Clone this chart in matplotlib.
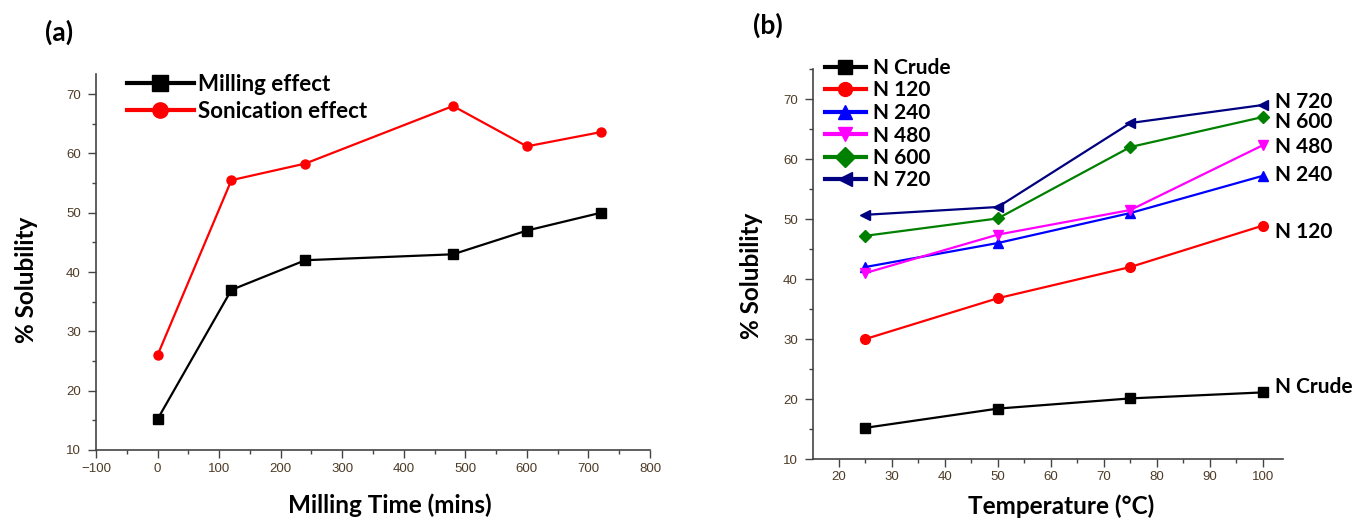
import matplotlib
matplotlib.use("Agg")
import matplotlib.pyplot as plt
from matplotlib.ticker import MultipleLocator

# Panel (a) data
milling_time = [0, 120, 240, 480, 600, 720]
milling_effect = [15.2, 37.0, 42.0, 43.0, 47.0, 50.0]
sonication_effect = [26.0, 55.5, 58.3, 68.0, 61.2, 63.6]

# Panel (b) data
temperature = [25, 50, 75, 100]
n_crude = [15.2, 18.4, 20.1, 21.1]
n_120 = [30.0, 36.8, 42.0, 48.9]
n_240 = [42.0, 46.0, 51.0, 57.2]
n_480 = [41.0, 47.4, 51.5, 62.3]
n_600 = [47.2, 50.1, 62.0, 67.0]
n_720 = [50.7, 52.0, 66.0, 69.0]
series_names = ["N Crude", "N 120", "N 240", "N 480", "N 600", "N 720"]

BOLD = dict(family="Lato", weight="bold")
TICKC = "#4d3b26"
W, H = 1352, 518

fig = plt.figure(figsize=(W / 100, H / 100), dpi=100)

def px_axes(l, r, t, b):
    return [l / W, 1 - b / H, (r - l) / W, (b - t) / H]

def style_axes(ax):
    for s in ("top", "right"):
        ax.spines[s].set_visible(False)
    for s in ("left", "bottom"):
        ax.spines[s].set_color("#444444")
        ax.spines[s].set_linewidth(1.2)
    ax.tick_params(which="major", direction="out", length=6, width=1.0,
                   colors="#444444", labelcolor=TICKC, labelsize=9.5, pad=3)
    ax.tick_params(which="minor", direction="out", length=3, width=1.0,
                   colors="#444444")
    ax.tick_params(axis="y", which="major", pad=5)
    for lab in ax.get_xticklabels() + ax.get_yticklabels():
        lab.set_family("Liberation Sans")

def place_label(lbl, x, y, ax_axis):
    ax_axis.set_label_coords(x, y)
    lbl.set_va("center")
    lbl.set_ha("center")

# ---------- panel (a)
axa = fig.add_axes(px_axes(96, 650, 74, 450))
axa.plot(milling_time, milling_effect, color="black", marker="s", ms=6.5,
         lw=1.6, label="Milling effect")
axa.plot(milling_time, sonication_effect, color="red", marker="o", ms=6.5,
         lw=1.6, label="Sonication effect")
axa.set_xlim(-100, 800)
axa.set_ylim(10, 73.4)
axa.xaxis.set_major_locator(MultipleLocator(100))
axa.xaxis.set_minor_locator(MultipleLocator(50))
axa.yaxis.set_major_locator(MultipleLocator(10))
axa.yaxis.set_minor_locator(MultipleLocator(5))
style_axes(axa)
axa.set_xlabel("Milling Time (mins)", fontsize=17.5, **BOLD)
axa.set_ylabel("% Solubility", fontsize=17.5, **BOLD)
place_label(axa.xaxis.label, 0.531, -0.146, axa.xaxis)
place_label(axa.yaxis.label, -0.126, 0.452, axa.yaxis)
lega = axa.legend(loc="upper left", bbox_to_anchor=(127 / W, 1 - 74 / H),
                  bbox_transform=fig.transFigure, frameon=False,
                  borderpad=0, borderaxespad=0,
                  prop=dict(family="Lato", weight="bold", size=16),
                  handlelength=3.0, handletextpad=0.2, labelspacing=0.28)
for h in lega.legend_handles:
    h.set_linewidth(3)
    h.set_markersize(11)
fig.text(45 / W, 1 - 32 / H, "(a)", fontsize=19, va="center", ha="left", **BOLD)

# ---------- panel (b)
axb = fig.add_axes(px_axes(813, 1283, 69, 459))
styles = [("black", "s"), ("red", "o"), ("blue", "^"),
          ("magenta", "v"), ("green", "D"), ("navy", "<")]
data_b = [n_crude, n_120, n_240, n_480, n_600, n_720]
for name, vals, (c, m) in zip(series_names, data_b, styles):
    ms = 6 if m == "D" else 7
    axb.plot(temperature, vals, color=c, marker=m, ms=ms, lw=1.6, label=name)
axb.set_xlim(15.1, 103.8)
axb.set_ylim(10, 75)
axb.xaxis.set_major_locator(MultipleLocator(10))
axb.xaxis.set_minor_locator(MultipleLocator(5))
axb.yaxis.set_major_locator(MultipleLocator(10))
axb.yaxis.set_minor_locator(MultipleLocator(5))
style_axes(axb)
axb.set_xlabel("Temperature (°C)", fontsize=17.5, **BOLD)
axb.set_ylabel("% Solubility", fontsize=17.5, **BOLD)
place_label(axb.xaxis.label, 0.528, -0.120, axb.xaxis)
place_label(axb.yaxis.label, -0.130, 0.469, axb.yaxis)
legb = axb.legend(loc="upper left", bbox_to_anchor=(825 / W, 1 - 58 / H),
                  bbox_transform=fig.transFigure, frameon=False,
                  borderpad=0, borderaxespad=0,
                  prop=dict(family="Lato", weight="bold", size=15),
                  handlelength=1.95, handletextpad=0.35, labelspacing=0.12)
for h in legb.legend_handles:
    h.set_linewidth(3)
    h.set_markersize(10)

label_offsets = {"N Crude": 0.9, "N 120": -1.1, "N 240": 0.1,
                 "N 480": -0.3, "N 600": -0.8, "N 720": 0.5}
for name, vals in zip(series_names, data_b):
    axb.annotate(name, xy=(temperature[-1], vals[-1] + label_offsets[name]),
                 xytext=(9, 0), textcoords="offset points", va="center",
                 ha="left", fontsize=15, annotation_clip=False, **BOLD)
fig.text(753 / W, 1 - 25 / H, "(b)", fontsize=19, va="center", ha="left", **BOLD)

fig.savefig("out.png", dpi=100)
